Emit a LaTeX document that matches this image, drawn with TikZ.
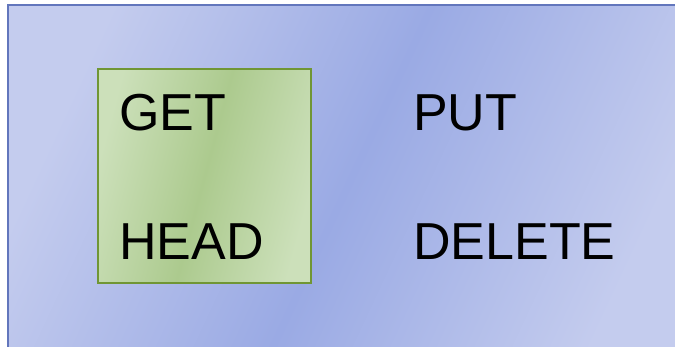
\documentclass[tikz,border=0pt]{standalone}
\usepackage{fontspec}
\setmainfont{Liberation Sans}
\usepackage{tikz}
\usetikzlibrary{positioning}
\definecolor{panelLight}{RGB}{196,204,238}
\definecolor{panelDark}{RGB}{154,170,228}
\definecolor{panelEdge}{RGB}{98,118,188}
\definecolor{boxLight}{RGB}{204,224,186}
\definecolor{boxDark}{RGB}{172,202,142}
\definecolor{boxEdge}{RGB}{112,150,52}
\begin{document}
\begin{tikzpicture}[x=1pt,y=-1pt,
	panel/.style={draw=panelEdge,line width=1.5pt,left color=panelLight,right color=panelLight,
		middle color=panelDark,shading angle=65},
	group box/.style={draw=boxEdge,line width=1.2pt,left color=boxLight,right color=boxLight,
		middle color=boxDark,shading angle=75},
	verb/.style={anchor=base west,inner sep=0pt,font=\fontsize{52}{52}\selectfont}]

	\useasboundingbox (0,0) rectangle (675,347);
	\path[panel] (8,5) rectangle (690,360);
	\path[group box] (98,69) rectangle (311,283);

	\node[verb] (get) at (119,131) {GET};
	\node[verb] (head) at (119,260) {HEAD};
	\node[verb] (put) at (413,131) {PUT};
	\node[verb] (delete) at (413,260) {DELETE};

\end{tikzpicture}
\end{document}
